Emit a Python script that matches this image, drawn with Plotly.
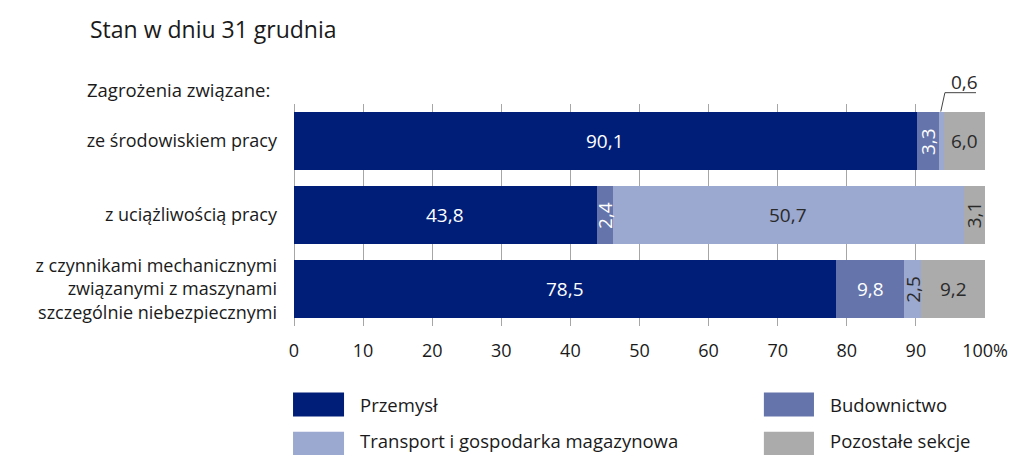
import plotly.graph_objects as go

categories = [
    "ze środowiskiem pracy",
    "z uciążliwością pracy",
    "z czynnikami mechanicznymi<br>związanymi z maszynami<br>szczególnie niebezpiecznymi",
]
series_names = ["Przemysł", "Budownictwo", "Transport i gospodarka magazynowa", "Pozostałe sekcje"]
przemysl = [90.1, 43.8, 78.5]
budownictwo = [3.3, 2.4, 9.8]
transport = [0.6, 50.7, 2.5]
pozostale = [6.0, 3.1, 9.2]
colors = ["#001E78", "#6575AB", "#9BA8CF", "#ABABAB"]
label_colors = ["white", "white", "#2a2a2a", "#2a2a2a"]
tick_vals = [0, 10, 20, 30, 40, 50, 60, 70, 80, 90, 100]
tick_text = ["0", "10", "20", "30", "40", "50", "60", "70", "80", "90", "100%"]

FONT = "Open Sans"
TXT = "#1a1a1a"
series = [przemysl, budownictwo, transport, pozostale]

fig = go.Figure()
for name, vals, col in zip(series_names, series, colors):
    fig.add_trace(go.Bar(
        y=categories, x=vals, name=name, orientation="h",
        marker=dict(color=col, line=dict(width=0)), showlegend=False,
        hoverinfo="x+name",
    ))

def fmt(v):
    return f"{v:.1f}".replace(".", ",")

annotations = []
for ci, cat in enumerate(categories):
    cum = 0.0
    for si, vals in enumerate(series):
        v = vals[ci]
        center = cum + v / 2
        cum += v
        if v < 1:
            continue
        annotations.append(dict(
            x=center, y=cat, xref="x", yref="y", text=fmt(v), showarrow=False,
            textangle=-90 if v < 4 else 0,
            font=dict(family=FONT, size=19, color=label_colors[si]),
        ))

# small segment label with leader line (first row, transport)
small_start = przemysl[0] + budownictwo[0]
small_center = small_start + transport[0] / 2
annotations.append(dict(
    x=small_center + 3.3, y=1.10, xref="x", yref="paper", text=fmt(transport[0]),
    showarrow=False, xanchor="center", yanchor="middle",
    font=dict(family=FONT, size=19, color="#2a2a2a"),
))

shapes = [dict(
    type="path", xref="x", yref="paper",
    path=f"M {small_center - 0.1},0.966 L {small_center + 0.5},1.051 L {small_center + 5.0},1.051",
    line=dict(color="#444444", width=1),
)]

# legend drawn as swatches + labels: (swatch x0, x1, text x, y0, y1, text y)
leg_pos = [(-0.0014, 0.0724, 0.0926, -0.300, -0.408, -0.354),
           (0.680, 0.7525, 0.773, -0.300, -0.408, -0.354),
           (-0.0014, 0.0724, 0.0926, -0.476, -0.584, -0.516),
           (0.680, 0.7525, 0.773, -0.476, -0.584, -0.516)]
for name, col, (x0, x1, xt, y0, y1, yt) in zip(series_names, colors, leg_pos):
    shapes.append(dict(type="rect", xref="paper", yref="paper", x0=x0, x1=x1, y0=y1, y1=y0,
                       fillcolor=col, line=dict(width=0)))
    annotations.append(dict(x=xt, y=yt, xref="paper", yref="paper", text=name,
                            showarrow=False, xanchor="left", yanchor="middle",
                            font=dict(family=FONT, size=18.5, color=TXT)))

annotations.append(dict(x=(85 - 294) / 691, y=(326.4 - 90) / 222, xref="paper", yref="paper",
                        text="Zagrożenia związane:",
                        showarrow=False, xanchor="left", yanchor="middle",
                        font=dict(family=FONT, size=18.5, color=TXT)))

fig.update_layout(
    width=1011, height=455,
    margin=dict(l=294, r=26, t=104, b=129, autoexpand=False),
    barmode="stack", bargap=0.22,
    plot_bgcolor="white", paper_bgcolor="white",
    title=dict(text="Stan w dniu 31 grudnia", x=90 / 1011, xanchor="left",
               y=1 - 30 / 455, yanchor="middle",
               font=dict(family=FONT, size=23, color=TXT)),
    xaxis=dict(range=[0, 100], tickvals=tick_vals, ticktext=tick_text,
               showgrid=True, gridcolor="#A6A6A6", gridwidth=1,
               zeroline=True, zerolinecolor="#A6A6A6", zerolinewidth=1,
               showline=False, ticks="", ticklabelstandoff=12, automargin=False,
               tickfont=dict(family=FONT, size=18, color=TXT), fixedrange=True),
    yaxis=dict(autorange="reversed", showgrid=False, showline=False, ticks="",
               ticklabelstandoff=16, automargin=False,
               tickfont=dict(family=FONT, size=18, color=TXT), fixedrange=True),
    annotations=annotations, shapes=shapes,
    font=dict(family=FONT),
)

fig.write_html(
    "out.html",
    config={"displayModeBar": False},
    post_script="document.body.style.margin='0';document.body.style.overflow='hidden';",
)
